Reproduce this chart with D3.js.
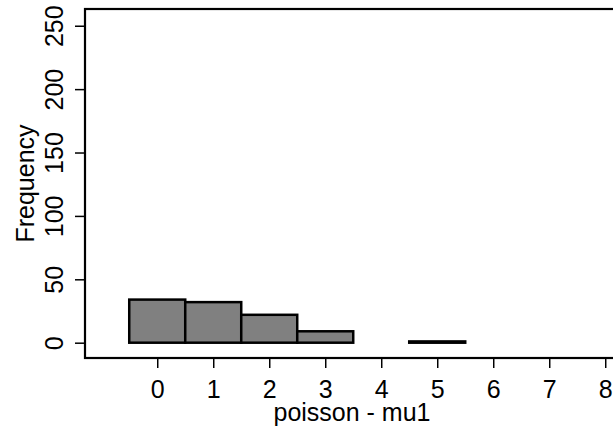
<!DOCTYPE html>
<html><head><meta charset="utf-8">
<script src="https://cdn.jsdelivr.net/npm/d3@7"></script>
<style>body{margin:0;background:#fff}svg{display:block}</style>
</head><body>
<script>
const categories = [0, 1, 2, 3, 4, 5];
const frequencies = [34, 32, 22, 9, 0, 1];
const xTicks = [0, 1, 2, 3, 4, 5, 6, 7, 8];
const yTicks = [0, 50, 100, 150, 200, 250];

(function () {
const W = 613, H = 432;
const mLeft = 85, mTop = 9, mRight = 619, mBottom = 358;
const svg = d3.select("body").append("svg").attr("width", W).attr("height", H);

const x = d3.scaleLinear().domain([-1.29, 8.246]).range([mLeft, mRight]);
const y = d3.scaleLinear().domain([-12.07, 263.2]).range([mBottom, mTop]);
const font = "Liberation Sans, Arial, sans-serif";
const fs = 25;

// frame
svg.append("rect").attr("x", mLeft).attr("y", mTop).attr("width", mRight - mLeft).attr("height", mBottom - mTop)
  .attr("fill", "none").attr("stroke", "#000").attr("stroke-width", 2.2);

// bars
svg.append("g").selectAll("rect").data(categories.map((c, i) => ({c, v: frequencies[i]})).filter(d => d.v > 0))
  .join("rect")
  .attr("x", d => x(d.c - 0.5)).attr("width", d => x(d.c + 0.5) - x(d.c - 0.5))
  .attr("y", d => y(d.v)).attr("height", d => y(0) - y(d.v))
  .attr("fill", "#808080").attr("stroke", "#000").attr("stroke-width", 2.5);

// x axis
const xa = svg.append("g").attr("transform", `translate(0,${mBottom})`)
  .call(d3.axisBottom(x).tickValues(xTicks).tickSize(10).tickFormat(d3.format("d")));
xa.select(".domain").remove();
xa.selectAll("line").attr("stroke-width", 1.5);
xa.selectAll("text").attr("font-family", font).attr("font-size", fs).attr("fill", "#000")
  .attr("y", 40).attr("dy", null);

// y axis
const ya = svg.append("g").attr("transform", `translate(${mLeft},0)`)
  .call(d3.axisLeft(y).tickValues(yTicks).tickSize(10).tickFormat(d3.format("d")));
ya.select(".domain").remove();
ya.selectAll("line").attr("stroke-width", 1.5);
ya.selectAll("text").attr("font-family", font).attr("font-size", fs).attr("fill", "#000")
  .attr("x", null).attr("dy", null).attr("text-anchor", "middle")
  .attr("transform", "translate(-22,0) rotate(-90)");

// axis titles
svg.append("text").attr("x", (mLeft + mRight) / 2).attr("y", 421).attr("text-anchor", "middle")
  .attr("font-family", font).attr("font-size", fs).text("poisson - mu1");
svg.append("text").attr("transform", `translate(34,${(mTop + mBottom) / 2}) rotate(-90)`).attr("text-anchor", "middle")
  .attr("font-family", font).attr("font-size", fs).text("Frequency");
})();
</script>
</body></html>
